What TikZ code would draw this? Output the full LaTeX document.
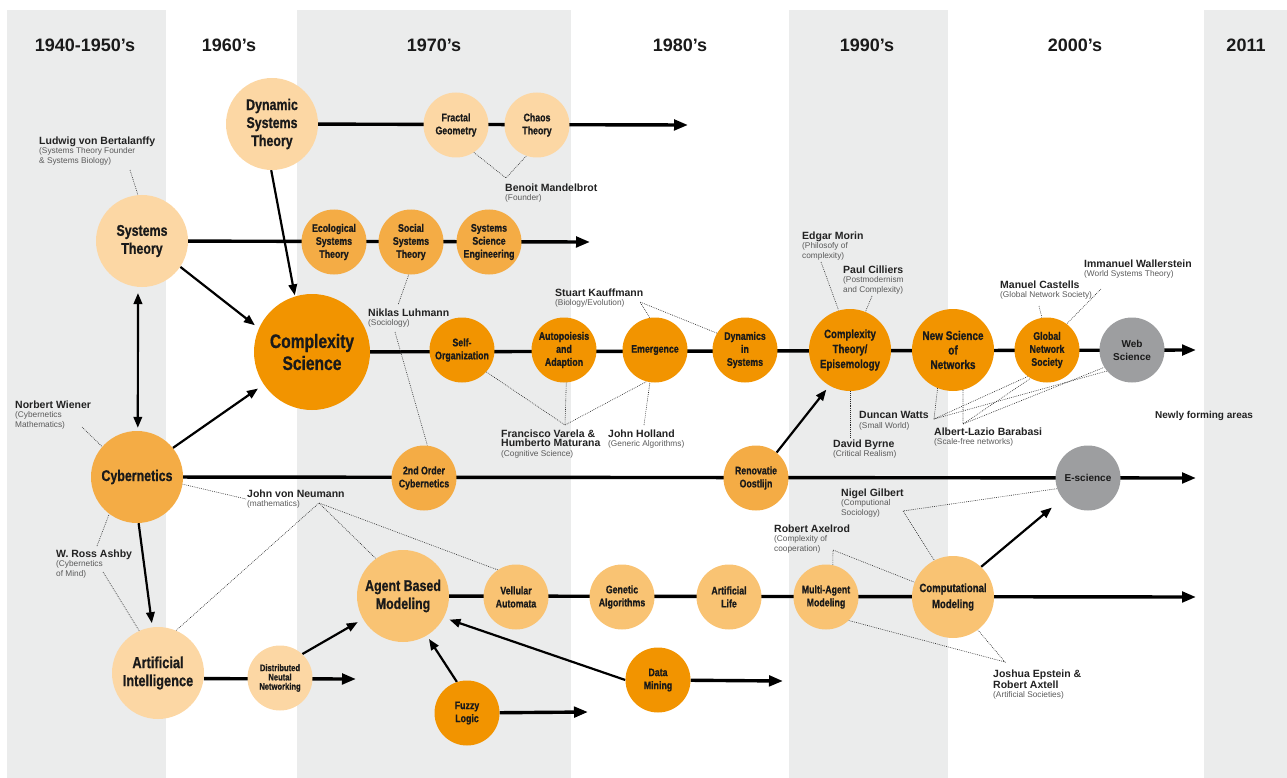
\documentclass[tikz,border=0pt]{standalone}
\usepackage{fontspec}
\setmainfont{Liberation Sans}
\newfontfamily\condfont[FakeStretch=0.8,BoldFeatures={FakeBold=0.8}]{Liberation Sans}
\usetikzlibrary{arrows.meta}
\pgfdeclarelayer{back}
\pgfdeclarelayer{lines}
\pgfsetlayers{back,lines,main}
\definecolor{band}{HTML}{EBECEC}
\definecolor{pale}{HTML}{FCD7A4}
\definecolor{mid}{HTML}{F4AC45}
\definecolor{deep}{HTML}{F29400}
\definecolor{soft}{HTML}{F9C373}
\definecolor{webgray}{HTML}{9D9EA0}
\definecolor{nodetext}{HTML}{1A1A1A}
\definecolor{namecol}{HTML}{222222}
\definecolor{subgray}{HTML}{5A5A5A}
\newcommand{\pname}[1]{{\color{namecol}\bfseries\fontsize{10.5}{9.6}\selectfont #1}}

\begin{document}
\begin{tikzpicture}[x=1pt,y=-1pt,
	circ/.style={circle,inner sep=0pt,align=center,text=nodetext},
	bignode/.style={circ,minimum size=92pt,font=\condfont\bfseries\fontsize{15.5}{18}\selectfont},
	midnode/.style={circ,minimum size=82pt,font=\condfont\bfseries\fontsize{12}{15}\selectfont},
	smallnode/.style={circ,minimum size=65pt,font=\condfont\bfseries\fontsize{11}{13}\selectfont},
	graynode/.style={circ,minimum size=65pt,fill=webgray,font=\bfseries\fontsize{10}{13}\selectfont},
	decade/.style={anchor=base,text=nodetext,font=\bfseries\fontsize{18}{20}\selectfont},
	who/.style={anchor=north west,inner sep=0pt,align=left,text=subgray,font=\fontsize{8.3}{9.6}\selectfont},
	mainline/.style={line width=3.4pt,-{Triangle[length=14pt,width=10.5pt]}},
	arr/.style={line width=2.2pt,-{Triangle[length=11pt,width=8.5pt]}},
	dots/.style={line width=0.6pt,dash pattern=on 0.8pt off 1.1pt,black!85}]
	% decade bands
	\begin{pgfonlayer}{back}
		\fill[band] (7,10) rectangle (166,778);
		\fill[band] (297,10) rectangle (571,778);
		\fill[band] (789,10) rectangle (948,778);
		\fill[band] (1204,10) rectangle (1287,778);
	\end{pgfonlayer}
	\useasboundingbox (0,0) rectangle (1287,778);
	\node[decade] (d40) at (85,52) {1940-1950’s};
	\node[decade] (d60) at (229,52) {1960’s};
	\node[decade] (d70) at (434,52) {1970’s};
	\node[decade] (d80) at (680,52) {1980’s};
	\node[decade] (d90) at (867,52) {1990’s};
	\node[decade] (d00) at (1075,52) {2000’s};
	\node[decade] (d11) at (1246,52) {2011};
	% fields
	\node[bignode,fill=pale] (dst) at (272,124) {Dynamic\\Systems\\Theory};
	\node[smallnode,fill=pale] (frac) at (456,125) {Fractal\\Geometry};
	\node[smallnode,fill=pale] (chaos) at (537,125) {Chaos\\Theory};
	\coordinate (dstend) at (688,125);
	\node[bignode,fill=pale] (sys) at (142,241) {Systems\\Theory};
	\node[smallnode,fill=mid] (eco) at (334,242) {Ecological\\Systems\\Theory};
	\node[smallnode,fill=mid] (socsys) at (411,242) {Social\\Systems\\Theory};
	\node[smallnode,fill=mid] (sse) at (489,242) {Systems\\Science\\Engineering};
	\coordinate (sysend) at (590,242);
	\node[circ,minimum size=116pt,fill=deep,font=\condfont\bfseries\fontsize{19.5}{22}\selectfont] (cplx) at (312,352) {Complexity\\Science};
	\node[smallnode,fill=deep] (selforg) at (462,350) {Self-\\Organization};
	\node[smallnode,fill=deep] (autop) at (564,350) {Autopoiesis\\and\\Adaption};
	\node[smallnode,fill=deep] (emerg) at (655,350) {Emergence};
	\node[smallnode,fill=deep] (dyn) at (745,350) {Dynamics\\in\\Systems};
	\node[midnode,fill=deep] (ctheory) at (850,350) {Complexity\\Theory/\\Episemology};
	\node[midnode,fill=deep,font=\condfont\bfseries\fontsize{12.5}{14.5}\selectfont] (netsci) at (953,350) {New Science\\of\\Networks};
	\node[smallnode,fill=deep,font=\condfont\bfseries\fontsize{11}{13}\selectfont] (gns) at (1047,350) {Global\\Network\\Society};
	\node[graynode] (web) at (1132,350) {Web\\Science};
	\coordinate (cplxend) at (1196,350);
	\node[bignode,fill=mid] (cyb) at (137,477) {Cybernetics};
	\node[smallnode,fill=mid] (cyb2) at (424,478) {2nd Order\\Cybernetics};
	\node[smallnode,fill=mid] (renov) at (756,478) {Renovatie\\Oostlijn};
	\node[graynode] (escience) at (1088,478) {E-science};
	\coordinate (cybend) at (1196,478);
	\node[bignode,fill=soft] (abm) at (403,596) {Agent Based\\Modeling};
	\node[smallnode,fill=soft] (vell) at (516,597) {Vellular\\Automata};
	\node[smallnode,fill=soft] (genal) at (622,597) {Genetic\\Algorithms};
	\node[smallnode,fill=soft] (alife) at (729,597) {Artificial\\Life};
	\node[smallnode,fill=soft] (mam) at (826,597) {Multi-Agent\\Modeling};
	\node[midnode,fill=soft,font=\condfont\bfseries\fontsize{12}{16}\selectfont] (comp) at (953,597) {Computational\\Modeling};
	\coordinate (abmend) at (1196,597);
	\node[bignode,fill=pale,font=\condfont\bfseries\fontsize{16}{18}\selectfont] (ai) at (158,673) {Artificial\\Intelligence};
	\node[smallnode,fill=pale,font=\condfont\bfseries\fontsize{9.5}{9.3}\selectfont] (dnn) at (280,678) {Distributed\\Neutal\\Networking};
	\coordinate (aiend) at (356,679);
	\node[smallnode,fill=deep] (fuzzy) at (467,713) {Fuzzy\\Logic};
	\coordinate (fuzzyend) at (588,712);
	\node[smallnode,fill=deep] (dmin) at (658,680) {Data\\Mining};
	\coordinate (dminend) at (783,681);
	% people
	\node[who] (bertalanffy) at (39,136.5) {\pname{Ludwig von Bertalanffy}\\(Systems Theory Founder\\\& Systems Biology)};
	\node[who] (mandelbrot) at (505,183.5) {\pname{Benoit Mandelbrot}\\(Founder)};
	\node[who] (luhmann) at (368,308.5) {\pname{Niklas Luhmann}\\(Sociology)};
	\node[who] (kauffmann) at (555,288.5) {\pname{Stuart Kauffmann}\\(Biology/Evolution)};
	\node[who] (varela) at (501,429.5) {\pname{Francisco Varela \&}\\\pname{Humberto Maturana}\\(Cognitive Science)};
	\node[who] (holland) at (608,429.5) {\pname{John Holland}\\(Generic Algorithms)};
	\node[who] (morin) at (802,231.5) {\pname{Edgar Morin}\\(Philosofy of\\complexity)};
	\node[who] (cilliers) at (843,265.5) {\pname{Paul Cilliers}\\(Postmodernism\\and Complexity)};
	\node[who] (castells) at (1000,280.5) {\pname{Manuel Castells}\\(Global Network Society)};
	\node[who] (wallerstein) at (1084,259.5) {\pname{Immanuel Wallerstein}\\(World Systems Theory)};
	\node[who] (watts) at (859,411.5) {\pname{Duncan Watts}\\(Small World)};
	\node[who] (byrne) at (833,439.5) {\pname{David Byrne}\\(Critical Realism)};
	\node[who] (barabasi) at (934,427.5) {\pname{Albert-Lazio Barabasi}\\(Scale-free networks)};
	\node[who,text=namecol,font=\bfseries\fontsize{10}{12}\selectfont] (newly) at (1155,410.7) {Newly forming areas};
	\node[who] (wiener) at (15,400.5) {\pname{Norbert Wiener}\\(Cybernetics\\Mathematics)};
	\node[who] (ashby) at (56,549.5) {\pname{W. Ross Ashby}\\(Cybernetics\\of Mind)};
	\node[who] (neumann) at (247,489.5) {\pname{John von Neumann}\\(mathematics)};
	\node[who] (gilbert) at (841,488.5) {\pname{Nigel Gilbert}\\(Computional\\Sociology)};
	\node[who] (axelrod) at (774,524.5) {\pname{Robert Axelrod}\\(Complexity of\\cooperation)};
	\node[who] (epstein) at (993,669.5) {\pname{Joshua Epstein \&}\\\pname{Robert Axtell}\\(Artificial Societies)};
	% free ends of the dotted leaders
	\coordinate (bertp) at (130,170);
	\coordinate (mandelp) at (506,178);
	\coordinate (luhmtop) at (398,305);
	\coordinate (luhmbot) at (395,332);
	\coordinate (kauffp) at (640,302);
	\coordinate (varelap) at (565,425);
	\coordinate (hollandp) at (644,425);
	\coordinate (morinp) at (821,262);
	\coordinate (cilliersp) at (872,296);
	\coordinate (byrnep) at (850,437);
	\coordinate (wattsp) at (934,419);
	\coordinate (barabasip) at (963,424);
	\coordinate (castellsp) at (1039,306);
	\coordinate (wallersteinp) at (1101,289);
	\coordinate (wienerp) at (82,427);
	\coordinate (ashbytop) at (97,546);
	\coordinate (ashbybot) at (103,572);
	\coordinate (neumannp) at (246,499);
	\coordinate (neumannv) at (319,503);
	\coordinate (gilbertp) at (903,511);
	\coordinate (axelrodp) at (833,550);
	\coordinate (epsteinp) at (1005,662);
	\begin{pgfonlayer}{lines}
		% time lines
		\draw[mainline] (dst) -- (dstend);
		\draw[mainline] (sys) -- (sysend);
		\draw[mainline] (cplx) -- (cplxend);
		\draw[mainline] (cyb) -- (cybend);
		\draw[mainline] (abm) -- (abmend);
		\draw[mainline] (ai.-7) -- (aiend);
		\draw[mainline] (fuzzy) -- (fuzzyend);
		\draw[mainline] (dmin) -- (dminend);
		% influences
		\draw[arr,shorten >=1pt] (dst.-91) -- (cplx.107);
		\draw[arr,shorten >=5pt] (sys.-34) -- (cplx.156);
		\draw[arr,{Triangle[length=11pt,width=8.5pt]}-{Triangle[length=11pt,width=8.5pt]},shorten <=6pt,shorten >=3pt] (sys.-95) -- (cyb.89);
		\draw[arr,shorten >=7pt] (cyb.39) -- (cplx.214);
		\draw[arr,shorten >=4pt] (cyb.-88) -- (ai.97);
		\draw[arr,shorten >=6pt] (dnn.47) -- (abm.-150);
		\draw[arr,shorten >=4pt] (fuzzy.108) -- (abm.-59);
		\draw[arr,shorten >=6pt] (dmin.west) -- (abm.-28);
		\draw[arr,shorten >=5pt] (renov.51) -- (ctheory.240);
		\draw[arr,shorten >=14pt] (comp.47) -- (escience.219);
		% people leaders
		\draw[dots] (bertp) -- (sys.95);
		\draw[dots] (frac.-57) -- (mandelp) -- (chaos.-109);
		\draw[dots] (socsys.-94) -- (luhmtop);
		\draw[dots] (luhmbot) -- (cyb2.84);
		\draw[dots] (emerg.99) -- (kauffp) -- (dyn.149);
		\draw[dots] (selforg.-42) -- (varelap) -- (emerg.-105);
		\draw[dots] (autop.-86) -- (varelap);
		\draw[dots] (hollandp) -- (emerg.-99);
		\draw[dots] (morinp) -- (ctheory.106);
		\draw[dots] (cilliersp) -- (ctheory.68);
		\draw[dots] (ctheory.south) -- (byrnep);
		\draw[dots] (netsci.-112) -- (wattsp) -- (gns.-126);
		\draw[dots] (wattsp) -- (web.-140);
		\draw[dots] (netsci.-76) -- (barabasip) -- (gns.-120);
		\draw[dots] (barabasip) -- (web.-148);
		\draw[dots] (castellsp) -- (gns.99);
		\draw[dots] (wallersteinp) -- (gns.53);
		\draw[dots] (wienerp) -- (cyb.139);
		\draw[dots] (ashbytop) -- (cyb.-127);
		\draw[dots] (ashbybot) -- (ai.114);
		\draw[dots] (cyb.-9) -- (neumannp);
		\draw[dots] (ai.67) -- (neumannv) -- (abm.126);
		\draw[dots] (neumannv) -- (vell.124);
		\draw[dots] (escience.-161) -- (gilbertp) -- (comp.117);
		\draw[dots] (mam.78) -- (axelrodp) -- (comp.159);
		\draw[dots] (mam.-46) -- (epsteinp) -- (comp.-53);
	\end{pgfonlayer}
\end{tikzpicture}
\end{document}
